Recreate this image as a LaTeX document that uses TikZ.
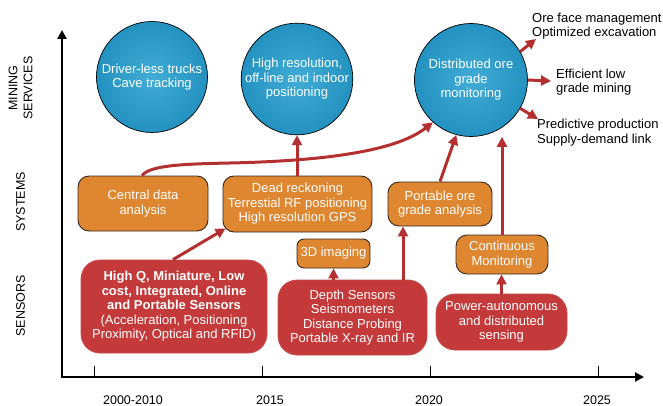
\documentclass[tikz,border=0pt]{standalone}
\usepackage{fontspec}
\setmainfont{Liberation Sans}
\usetikzlibrary{arrows.meta,calc}
\definecolor{circblue}{RGB}{36,146,192}
\definecolor{circin}{RGB}{64,172,214}
\definecolor{orfill}{RGB}{222,134,48}
\definecolor{orline}{RGB}{55,40,30}
\definecolor{redfill}{RGB}{196,58,58}
\definecolor{arrred}{RGB}{180,48,48}
\begin{document}
\begin{tikzpicture}[x=1pt,y=-1pt,
  font=\fontsize{13}{14.5}\selectfont,
  circ/.style={circle, draw=black, line width=0.7pt, inner color=circin, outer color=circblue,
    minimum size=111, inner sep=0pt, align=center, text=white},
  obox/.style={rectangle, rounded corners=11, draw=orline, line width=0.9pt, fill=orfill,
    text=white, align=center, inner sep=0pt},
  rbox/.style={rectangle, rounded corners=19, fill=redfill, draw=redfill!92!white, line width=0.8pt,
    text=white, align=center, inner sep=0pt},
  arr/.style={draw=arrred, line width=3pt, -{Triangle[length=10pt,width=10pt]}},
  outlbl/.style={anchor=west, align=left, inner sep=0pt},
  axislbl/.style={rotate=90, align=center, font=\fontsize{12.5}{15}\selectfont},
  yearlbl/.style={font=\fontsize{12.5}{14}\selectfont},
  axisline/.style={line width=2.6pt, {Triangle[length=9pt,width=9pt]}-{Triangle[length=9pt,width=9pt]}},
  tickline/.style={line width=1pt}
]
\useasboundingbox (0,0) rectangle (663,406);

% axes
\coordinate (ytop) at (62,30);
\coordinate (xend) at (644,377);
\draw[axisline] (ytop) |- (xend);
\foreach \t in {94,262,430,598}{
  \draw[tickline] (\t,377) -- (\t,366);
}
\node[yearlbl] (y1) at (133,400) {2000-2010};
\node[yearlbl] (y2) at (270,400) {2015};
\node[yearlbl] (y3) at (429,400) {2020};
\node[yearlbl] (y4) at (597,400) {2025};

\node[axislbl] (lms) at (20.5,88) {MINING\\SERVICES};
\node[axislbl] (lsy) at (20.5,202) {SYSTEMS};
\node[axislbl] (lse) at (20.5,306) {SENSORS};

% circles
\node[circ] (c1) at (152,77) {Driver-less trucks\\Cave tracking};
\node[circ] (c2) at (297,79) {High resolution,\\off-line and indoor\\positioning};
\node[circ, minimum size=113] (dc) at (471,80) {Distributed ore\\grade\\monitoring};

% orange boxes
\node[obox, minimum width=130, minimum height=55] (cd) at (143,203.5) {Central data\\analysis};
\node[obox, minimum width=149, minimum height=56] (dr) at (297.5,204) {Dead reckoning\\Terrestial RF positioning\\High resolution GPS};
\node[obox, minimum width=73, minimum height=29, rounded corners=7] (td) at (333.5,253.5) {3D imaging};
\node[obox, minimum width=104, minimum height=44] (po) at (440,204) {Portable ore\\grade analysis};
\node[obox, minimum width=92, minimum height=39] (cm) at (502,254.5) {Continuous\\Monitoring};

% red boxes
\node[rbox, minimum width=186, minimum height=93] (hq) at (174,306.5)
  {\textbf{High Q, Miniature, Low}\\\textbf{cost, Integrated, Online}\\\textbf{and Portable Sensors}\\(Acceleration, Positioning\\Proximity, Optical and RFID)};
\node[rbox, minimum width=149, minimum height=75] (dp) at (352.5,317.5)
  {Depth Sensors\\Seismometers\\Distance Probing\\Portable X-ray and IR};
\node[rbox, minimum width=131, minimum height=56] (pw) at (501.5,322)
  {Power-autonomous\\and distributed\\sensing};

% outcome labels
\node[outlbl] (o1t) at (532,26) {Ore face management\\Optimized excavation};
\node[outlbl] (o2t) at (556,82) {Efficient low\\grade mining};
\node[outlbl] (o3t) at (537,132.5) {Predictive production\\Supply-demand link};
\coordinate (o1) at (536,39);
\coordinate (o2) at (551,81);
\coordinate (o3) at (538,119);

% connectors
\draw[arr] ([xshift=-1pt]hq.north) -- ([xshift=3pt,yshift=4pt]dr.south west);
\draw[arr] (dp.north -| td.south) -- (td.south);
\draw[arr] ([xshift=50.5pt]dp.north) -- ([xshift=50.5pt]dp.north |- po.south);
\draw[arr] (pw.north) -- (pw.north |- cm.south);
\draw[arr] (cm.north) -- (cm.north |- dc.south);
\draw[arr] (po.north) -- (dc.255);
\draw[arr] (dr.north -| c2.south) -- (c2.south);
\draw[arr] ([xshift=-1pt]cd.north) .. controls +(8,-10) and (180,164) .. (230,163)
  .. controls (320,161) and (395,152) .. (dc.228);
\draw[arr] (dc.30) -- (o1);
\draw[arr] (dc.0) -- (o2);
\draw[arr] (dc.-30) -- (o3);
\end{tikzpicture}
\end{document}
